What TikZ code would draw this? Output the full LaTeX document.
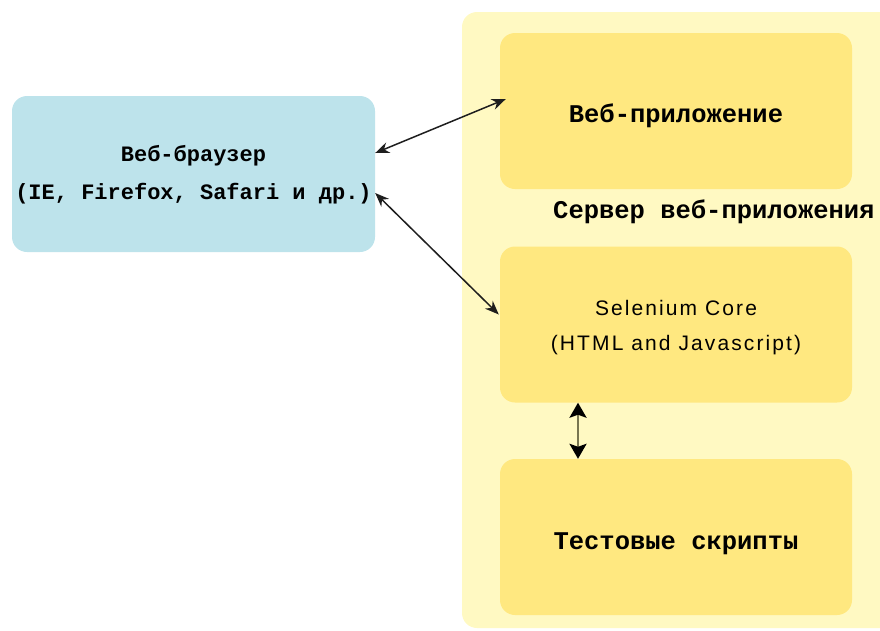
\documentclass[tikz,border=0pt]{standalone}
\usepackage{fontspec}
\setmainfont{Liberation Sans}
\newfontfamily\monofnt{Liberation Mono}
\newfontfamily\sansfnt{Liberation Sans}[LetterSpace=10]
\usetikzlibrary{arrows.meta}
\definecolor{bluebox}{RGB}{189,227,235}
\definecolor{palepanel}{RGB}{255,249,194}
\definecolor{yelbox}{RGB}{255,232,128}
\definecolor{arrowc}{RGB}{30,30,30}
\definecolor{vlinec}{RGB}{120,118,80}
\begin{document}
\begin{tikzpicture}[x=1pt,y=-1pt,
  boxbase/.style={rounded corners=15pt, draw=none, inner sep=0pt},
  bluestyle/.style={boxbase, fill=bluebox, minimum width=363pt, minimum height=156pt},
  yelstyle/.style={boxbase, fill=yelbox, minimum width=352pt, minimum height=156pt},
  lbl/.style={align=center, inner sep=0pt},
  conn/.style={draw=arrowc, line width=1.5pt, {Stealth[length=14pt,width=11pt]}-{Stealth[length=14pt,width=11pt]}},
  vconn/.style={draw=vlinec, line width=2.6pt, {Stealth[length=15pt,width=17pt,inset=3pt,color=black]}-{Stealth[length=15pt,width=17pt,inset=3pt,color=black]}},
  monolbl/.style={font=\monofnt\bfseries\fontsize{25.5}{30}\selectfont}]
\useasboundingbox (0,0) rectangle (880,630);
\fill[palepanel, rounded corners=15pt] (462,12) rectangle (900,628);
\node[bluestyle] (browser) at (193.5,174) {};
\node[yelstyle] (webapp) at (676,111) {};
\node[yelstyle] (selenium) at (676,324.5) {};
\node[yelstyle] (tests) at (676,537) {};
\node[lbl, font=\monofnt\bfseries\fontsize{22}{38}\selectfont] (browserL) at ([yshift=-1pt]browser.center) {Веб-браузер\\(IE, Firefox, Safari и др.)};
\node[lbl, monolbl] (webappL) at ([yshift=-5pt]webapp.center) {Веб-приложение};
\node[lbl, font=\sansfnt\fontsize{21}{35}\selectfont] (seleniumL) at ([yshift=-3pt]selenium.center) {Selenium Core\\(HTML and Javascript)};
\node[lbl, monolbl] (testsL) at ([yshift=-7pt]tests.center) {Тестовые скрипты};
\node[monolbl, anchor=west, inner sep=0pt] (server) at (553,212) {Сервер веб-приложения};
\draw[conn] ([yshift=21pt]browser.east) -- ([xshift=6pt,yshift=12pt]webapp.west);
\draw[conn] ([yshift=-19pt]browser.east) -- ([xshift=-1pt,yshift=10pt]selenium.west);
\draw[vconn] ([xshift=-98pt]selenium.south) -- ([xshift=-98pt]tests.north);
\end{tikzpicture}
\end{document}
